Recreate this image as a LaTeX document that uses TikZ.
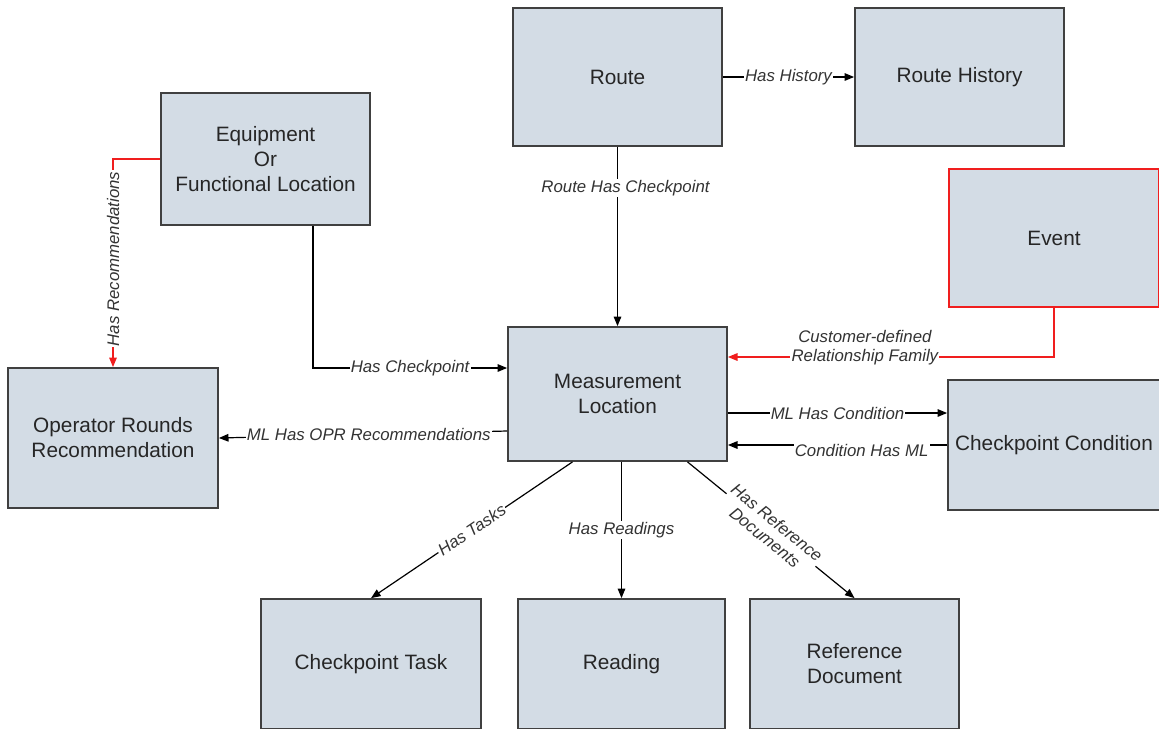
\documentclass[tikz,border=0pt]{standalone}
\usepackage{fontspec}
\setmainfont{Liberation Sans}
\usetikzlibrary{arrows.meta}
\definecolor{boxfill}{RGB}{211,220,229}
\definecolor{boxline}{RGB}{64,64,64}
\definecolor{famred}{RGB}{240,30,30}
\tikzstyle{every family} = [draw=boxline, line width=0.9pt, fill=boxfill, text=black!85, align=center, inner sep=0pt, font=\fontsize{10.4}{12.5}\selectfont]
\tikzstyle{family} = [rectangle, every family]
\tikzstyle{every link} = []
\tikzstyle{link} = [>={Triangle[length=4.8pt,width=3.8pt]}, draw, line width=0.6pt, every link]
\tikzstyle{redlink} = [link, draw=famred]
\tikzstyle{rel} = [fill=white, inner sep=0.6pt, align=center, text=black!80, font=\fontsize{8.4}{9.5}\selectfont\itshape]
\tikzset{boxsize/.style 2 args={minimum width=#1, minimum height=#2}}

\begin{document}
\begin{tikzpicture}[x=0.5pt, y=-0.5pt]
  \useasboundingbox (0,0) rectangle (1159,728);
  % families
  \node[family, boxsize={104.5pt}{69pt}] (route) at (617.5,77) {Route};
  \node[family, boxsize={104.5pt}{69pt}] (routehist) at (959.5,77) {Route History};
  \node[family, boxsize={104.5pt}{66pt}] (equip) at (265.5,159) {Equipment\\Or\\Functional Location};
  \node[family, boxsize={105pt}{69pt}, draw=famred, line width=1.1pt] (event) at (1054,238) {Event};
  \node[family, boxsize={109.5pt}{67pt}] (meas) at (617.5,394) {Measurement\\Location};
  \node[family, boxsize={105pt}{70pt}] (oprrec) at (113,438) {Operator Rounds\\Recommendation};
  \node[family, boxsize={106pt}{65pt}] (ckcond) at (1054,445) {Checkpoint Condition};
  \node[family, boxsize={110pt}{65pt}] (cktask) at (371,664) {Checkpoint Task};
  \node[family, boxsize={103.5pt}{65pt}] (reading) at (621.5,664) {Reading};
  \node[family, boxsize={104.5pt}{65pt}] (refdoc) at (854.5,664) {Reference\\Document};

  % relationships
  \draw[link,->] (route) -- node[rel, pos=0.23, xshift=4pt] {Route Has Checkpoint} (meas);
  \draw[link,->] (route) -- node[rel] {Has History} (routehist);
  \draw[link,->] ([xshift=23.75pt]equip.south) |- node[rel, pos=0.75] {Has Checkpoint} ([yshift=13pt]meas.west);
  \draw[redlink,->] (equip.west) -| node[rel, pos=0.74, rotate=90] {Has Recommendations} (oprrec.north);
  \draw[redlink,->] (event.south) |- node[rel, pos=0.79, yshift=4.75pt] {Customer-defined\\Relationship Family} ([yshift=18.5pt]meas.east);
  \draw[link,->] ([yshift=-9.5pt]meas.east) -- node[rel] {ML Has Condition} ([yshift=-9.5pt]meas.east -| ckcond.west);
  \draw[link,->] (ckcond.west) -- node[rel, pos=0.39, yshift=-2.5pt] {Condition Has ML} (ckcond.west -| meas.east);
  \draw[link,->] ([yshift=-18.5pt]meas.west) -- node[rel, pos=0.48] {ML Has OPR Recommendations} (oprrec.east);
  \draw[link,->] ([xshift=-22.5pt]meas.south) -- node[rel, sloped] {Has Tasks} (cktask.north);
  \draw[link,->] (reading.north |- meas.south) -- node[rel] {Has Readings} (reading.north);
  \draw[link,->] ([xshift=35pt]meas.south) -- node[rel, sloped] {Has Reference\\Documents} (refdoc.north);
\end{tikzpicture}
\end{document}
